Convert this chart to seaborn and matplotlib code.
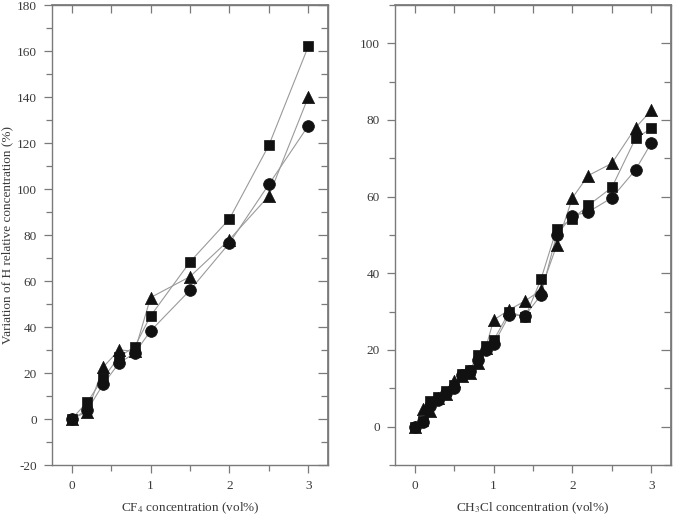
import numpy as np
import pandas as pd
import matplotlib
matplotlib.use("Agg")
import matplotlib.pyplot as plt
import seaborn as sns
from matplotlib.ticker import MultipleLocator

# ---- data: left panel (CF4) ----
cf4_x = [0, 0.2, 0.4, 0.6, 0.8, 1.0, 1.5, 2.0, 2.5, 3.0]
cf4_square = [0, 7.5, 17.8, 27.0, 31.5, 44.8, 68.3, 87.0, 119.0, 162.0]
cf4_triangle = [0, 3.2, 22.6, 30.0, 29.5, 52.8, 61.9, 78.0, 97.0, 140.0]
cf4_circle = [0, 4.0, 15.2, 24.3, 28.7, 38.3, 56.0, 76.5, 102.0, 127.5]

# ---- data: right panel (CH3Cl) ----
ch3cl_x = [0, 0.1, 0.2, 0.3, 0.4, 0.5, 0.6, 0.7, 0.8, 0.9, 1.0,
           1.2, 1.4, 1.6, 1.8, 2.0, 2.2, 2.5, 2.8, 3.0]
ch3cl_square = [0, 1.5, 6.8, 7.8, 9.2, 10.8, 13.8, 14.8, 18.7, 21.0, 22.5,
                30.0, 28.5, 38.4, 51.6, 54.2, 57.7, 62.4, 75.2, 77.8]
ch3cl_triangle = [0, 4.5, 4.0, 7.5, 8.5, 11.8, 13.2, 14.0, 16.6, 20.5, 27.8,
                  30.5, 32.8, 35.6, 47.3, 59.7, 65.5, 68.7, 78.0, 82.5]
ch3cl_circle = [0, 1.2, 5.5, 7.0, 8.8, 10.0, 13.5, 14.5, 17.5, 20.0, 21.5,
                29.1, 29.0, 34.3, 50.1, 55.0, 56.0, 59.7, 67.0, 74.0]

x_ticks = [0, 1, 2, 3]
left_yticks = list(range(-20, 181, 20))
right_yticks = list(range(0, 101, 20))

sns.set_theme(style="ticks")
plt.rcParams['font.family'] = ['Liberation Serif', 'DejaVu Serif']
plt.rcParams['mathtext.fontset'] = 'stix'
plt.rcParams['axes.unicode_minus'] = False

spine_col = '#7a7a7a'
text_col = '#3a3a3a'
line_col = '#9a9a9a'

fig = plt.figure(figsize=(6.79, 5.15), dpi=100)
W, H = 679, 515
axL = fig.add_axes([52 / W, 1 - 465 / H, 276 / W, 460 / H])
axR = fig.add_axes([395 / W, 1 - 465 / H, 276 / W, 460 / H])

def draw(ax, x, series):
    for ys, m, s in series:
        df = pd.DataFrame({'x': x, 'y': ys})
        sns.lineplot(data=df, x='x', y='y', ax=ax, color=line_col, lw=0.8,
                     sort=False, estimator=None, zorder=2)
    for ys, m, s in series:
        df = pd.DataFrame({'x': x, 'y': ys})
        sns.scatterplot(data=df, x='x', y='y', ax=ax, marker=m, s=s,
                        color='#111111', edgecolor='#111111', linewidth=0.5,
                        zorder=3)

draw(axL, cf4_x, [(cf4_square, 's', 62), (cf4_triangle, '^', 78), (cf4_circle, 'o', 72)])
draw(axR, ch3cl_x, [(ch3cl_square, 's', 62), (ch3cl_triangle, '^', 78), (ch3cl_circle, 'o', 72)])

def style(ax, ylim, yticks, ymin_step):
    ax.set_xlim(-0.25, 3.25)
    ax.set_ylim(*ylim)
    ax.set_xticks(x_ticks)
    ax.xaxis.set_minor_locator(MultipleLocator(0.5))
    ax.set_yticks(yticks)
    ax.yaxis.set_minor_locator(MultipleLocator(ymin_step))
    for sp in ax.spines.values():
        sp.set_visible(True)
        sp.set_color(spine_col)
        sp.set_linewidth(1.0)
    ax.tick_params(which='major', direction='out', length=6, width=0.9,
                   color=spine_col, labelcolor=text_col, labelsize=9.5, pad=5)
    ax.tick_params(which='minor', direction='out', length=4, width=0.9,
                   color=spine_col)
    ax.tick_params(top=False, right=False, which='both')
    ax.set_xlabel('')
    ax.set_ylabel('')
    # inward ticks on top and right
    sx = ax.secondary_xaxis('top')
    sx.set_xticks(x_ticks)
    sx.xaxis.set_minor_locator(MultipleLocator(0.5))
    sx.tick_params(which='both', direction='in', length=6, width=0.9,
                   color=spine_col, labeltop=False)
    sx.spines['top'].set_color(spine_col)
    sy = ax.secondary_yaxis('right')
    sy.set_yticks(yticks)
    sy.yaxis.set_minor_locator(MultipleLocator(ymin_step))
    sy.tick_params(which='major', direction='in', length=7, width=0.9,
                   color=spine_col, labelright=False)
    sy.tick_params(which='minor', direction='in', length=5, width=0.9,
                   color=spine_col, labelright=False)
    sy.spines['right'].set_color(spine_col)

style(axL, (-20, 180), left_yticks, 10)
style(axR, (-10, 110), right_yticks, 10)

axL.set_xlabel(r'CF$_4$ concentration (vol%)', fontsize=9.5, color=text_col, labelpad=6)
axR.set_xlabel(r'CH$_3$Cl concentration (vol%)', fontsize=9.5, color=text_col, labelpad=6)
axL.set_ylabel('Variation of H relative concentration (%)', fontsize=9.5, color=text_col)
axL.yaxis.set_label_coords(-0.14, 0.5)

fig.savefig('out.png', dpi=100)
